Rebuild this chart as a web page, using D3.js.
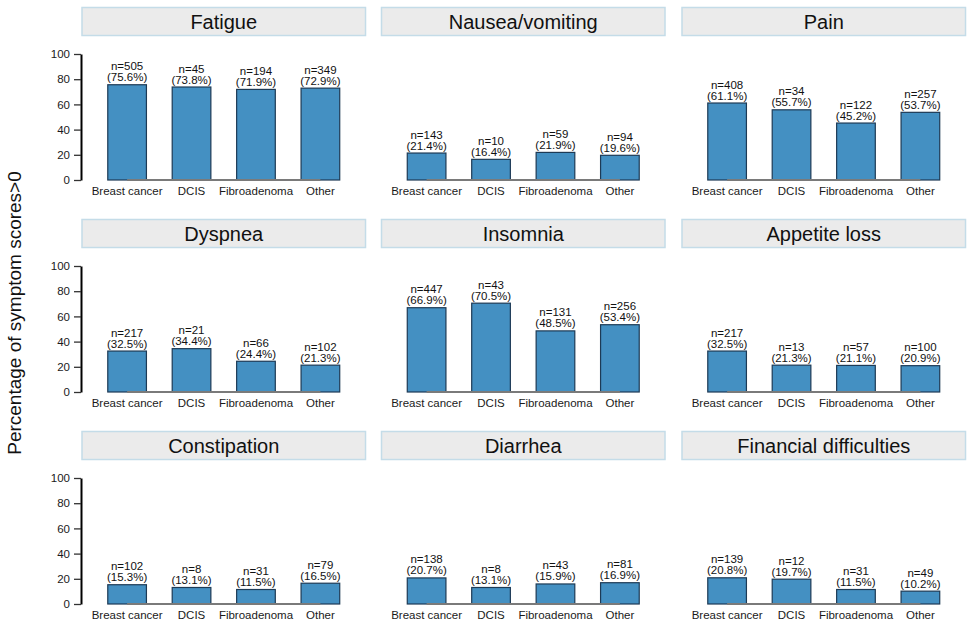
<!DOCTYPE html>
<html>
<head>
<meta charset="utf-8">
<script src="https://cdn.jsdelivr.net/npm/d3@7"></script>
<style>
  html, body { margin: 0; padding: 0; background: #fff; }
  svg { display: block; font-family: "Liberation Sans", Arial, Helvetica, sans-serif; }
</style>
</head>
<body>
<svg id="chart" width="973" height="622"></svg>
<script>
// Symptom panels, in reading order (3 per row)
const symptoms = ["Fatigue", "Nausea/vomiting", "Pain",
                  "Dyspnea", "Insomnia", "Appetite loss",
                  "Constipation", "Diarrhea", "Financial difficulties"];
const groups = ["Breast cancer", "DCIS", "Fibroadenoma", "Other"];

// Number of patients with symptom score > 0, per group
const fatigueN       = [505, 45, 194, 349];
const nauseaN        = [143, 10, 59, 94];
const painN          = [408, 34, 122, 257];
const dyspneaN       = [217, 21, 66, 102];
const insomniaN      = [447, 43, 131, 256];
const appetiteN      = [217, 13, 57, 100];
const constipationN  = [102, 8, 31, 79];
const diarrheaN      = [138, 8, 43, 81];
const financialN     = [139, 12, 31, 49];

// Percentage of patients with symptom score > 0, per group
const fatiguePct      = [75.6, 73.8, 71.9, 72.9];
const nauseaPct       = [21.4, 16.4, 21.9, 19.6];
const painPct         = [61.1, 55.7, 45.2, 53.7];
const dyspneaPct      = [32.5, 34.4, 24.4, 21.3];
const insomniaPct     = [66.9, 70.5, 48.5, 53.4];
const appetitePct     = [32.5, 21.3, 21.1, 20.9];
const constipationPct = [15.3, 13.1, 11.5, 16.5];
const diarrheaPct     = [20.7, 13.1, 15.9, 16.9];
const financialPct    = [20.8, 19.7, 11.5, 10.2];

const yTicks = [0, 20, 40, 60, 80, 100];
const yTitle = "Percentage of symptom scores>0";

const countsBySymptom = [fatigueN, nauseaN, painN, dyspneaN, insomniaN,
                         appetiteN, constipationN, diarrheaN, financialN];
const pctBySymptom = [fatiguePct, nauseaPct, painPct, dyspneaPct, insomniaPct,
                      appetitePct, constipationPct, diarrheaPct, financialPct];

const panels = symptoms.map((s, i) => ({
  name: s,
  col: i % 3,
  row: Math.floor(i / 3),
  bars: groups.map((g, j) => ({ group: g, n: countsBySymptom[i][j], pct: pctBySymptom[i][j] }))
}));

// Layout
const colX = [82, 381.5, 682];
const panelW = 283.5;
const rowStep = 212;
const stripTop = 7.5, stripH = 28;
const plotTop = 54, plotBottom = 180;
const smallFont = 11.5;

const svg = d3.select("#chart");

// Shared y-axis title
svg.append("text")
  .attr("transform", "translate(21,313) rotate(-90)")
  .attr("text-anchor", "middle")
  .attr("font-size", 19)
  .attr("fill", "#111")
  .text(yTitle);

panels.forEach(p => {
  const x0 = colX[p.col];
  const dy = p.row * rowStep;
  const g = svg.append("g");

  const x = d3.scaleBand()
    .domain(groups)
    .range([x0, x0 + panelW])
    .paddingInner(0.4)
    .paddingOuter(0.4);
  const y = d3.scaleLinear()
    .domain([0, 100])
    .range([plotBottom + dy, plotTop + dy]);

  // Strip header
  g.append("rect")
    .attr("x", x0).attr("y", stripTop + dy)
    .attr("width", panelW).attr("height", stripH)
    .attr("fill", "#ebebeb")
    .attr("stroke", "#c4dce8")
    .attr("stroke-width", 1.5);
  g.append("text")
    .attr("x", x0 + panelW / 2)
    .attr("y", stripTop + dy + stripH / 2 + 7)
    .attr("text-anchor", "middle")
    .attr("font-size", 20)
    .attr("fill", "#111")
    .text(p.name);

  // Bars
  g.selectAll("rect.bar")
    .data(p.bars)
    .join("rect")
    .attr("class", "bar")
    .attr("x", d => x(d.group))
    .attr("y", d => y(d.pct))
    .attr("width", x.bandwidth())
    .attr("height", d => y(0) - y(d.pct))
    .attr("fill", "#4490c2")
    .attr("stroke", "#1d3a55")
    .attr("stroke-width", 1.2);

  // Baseline between the first and last category centres
  g.append("line")
    .attr("x1", x(groups[0]) + x.bandwidth() / 2)
    .attr("x2", x(groups[groups.length - 1]) + x.bandwidth() / 2)
    .attr("y1", y(0)).attr("y2", y(0))
    .attr("stroke", "#7a7a7a")
    .attr("stroke-width", 2);

  // Count / percentage labels above bars
  const lab = g.selectAll("text.lab")
    .data(p.bars)
    .join("text")
    .attr("class", "lab")
    .attr("text-anchor", "middle")
    .attr("font-size", smallFont)
    .attr("fill", "#111");
  lab.append("tspan")
    .attr("x", d => x(d.group) + x.bandwidth() / 2)
    .attr("y", d => y(d.pct) - 14.5)
    .text(d => "n=" + d.n);
  lab.append("tspan")
    .attr("x", d => x(d.group) + x.bandwidth() / 2)
    .attr("y", d => y(d.pct) - 3.5)
    .text(d => "(" + d.pct.toFixed(1) + "%)");

  // Category labels
  const xAxis = d3.axisBottom(x).tickSize(0).tickPadding(0);
  const xa = g.append("g")
    .attr("transform", `translate(0,${y(0) + 15})`)
    .call(xAxis);
  xa.select(".domain").remove();
  xa.selectAll("text")
    .attr("font-size", smallFont)
    .attr("fill", "#1a1a1a")
    .attr("font-family", "'Liberation Sans', Arial, sans-serif")
    .attr("dy", 0);

  // Y axis in the first column only
  if (p.col === 0) {
    const yAxis = d3.axisLeft(y).tickValues(yTicks).tickSize(7).tickPadding(4).tickSizeOuter(0);
    const ya = g.append("g")
      .attr("transform", `translate(${x0 - 1},0)`)
      .call(yAxis);
    ya.select(".domain").attr("stroke", "#000").attr("stroke-width", 2);
    ya.selectAll(".tick line").attr("stroke", "#333").attr("stroke-width", 1.3);
    ya.selectAll(".tick text")
      .attr("font-size", smallFont)
      .attr("fill", "#1a1a1a")
      .attr("font-family", "'Liberation Sans', Arial, sans-serif");
  }
});
</script>
</body>
</html>
